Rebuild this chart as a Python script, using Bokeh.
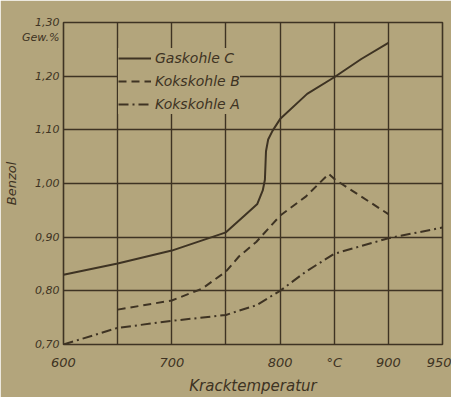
from bokeh.plotting import figure
from bokeh.models import FixedTicker, Range1d, Legend, LegendItem
from bokeh.embed import file_html
from bokeh.resources import INLINE

# ---- data ----
temp_C = [600, 650, 700, 750, 767, 779, 784, 786, 787, 789, 793, 800, 825, 850, 875, 900]
gas_C = [0.830, 0.851, 0.875, 0.909, 0.940, 0.962, 0.987, 1.007, 1.060, 1.082, 1.098, 1.120, 1.167, 1.198, 1.232, 1.262]

temp_B = [650, 700, 728, 750, 762, 778, 800, 824, 845, 851, 900]
koks_B = [0.765, 0.782, 0.804, 0.836, 0.864, 0.891, 0.940, 0.976, 1.018, 1.007, 0.943]

temp_A = [600, 650, 700, 750, 762, 778, 800, 824, 850, 900, 950]
koks_A = [0.700, 0.731, 0.744, 0.755, 0.763, 0.773, 0.800, 0.836, 0.869, 0.898, 0.918]

x_ticks = [600, 650, 700, 750, 800, 850, 900, 950]
x_tick_labels = ["600", "", "700", "", "800", "°C", "900", "950"]
y_ticks = [0.70, 0.80, 0.90, 1.00, 1.10, 1.20, 1.30]
y_tick_labels = ["0,70", "0,80", "0,90", "1,00", "1,10", "1,20", "1,30"]
series_names = ["Gaskohle C", "Kokskohle B", "Kokskohle A"]
unit_text = "Gew.%"

INK = "#3e3323"
BG = "#b3a57c"
FONT = "DejaVu Sans"
Y0, Y1 = 0.70, 1.30
FRAME_H = 329          # frame height in px (layout constant)
UNIT_DROP_PX = 15      # unit label sits this far below the top tick

p = figure(width=451, height=397, output_backend="svg", toolbar_location=None,
           x_range=Range1d(600, 950), y_range=Range1d(Y0, Y1),
           min_border_left=63, min_border_right=9, min_border_top=22, min_border_bottom=46)
p.background_fill_color = BG
p.border_fill_color = BG
p.outline_line_color = INK
p.outline_line_width = 1.6

# unit label placed as an extra (grid-less) tick just below the top tick
unit_tick = y_ticks[-1] - UNIT_DROP_PX * (Y1 - Y0) / FRAME_H
y_label_ticks = y_ticks + [unit_tick]
y_label_texts = y_tick_labels + [unit_text]

p.xaxis.ticker = FixedTicker(ticks=x_ticks)
p.yaxis.ticker = FixedTicker(ticks=y_label_ticks)
p.xaxis.major_label_overrides = dict(zip(x_ticks, x_tick_labels))
p.yaxis.major_label_overrides = dict(zip(y_label_ticks, y_label_texts))
for ax in (p.xaxis[0], p.yaxis[0]):
    ax.axis_line_color = None
    ax.major_tick_line_color = None
    ax.minor_tick_line_color = None
    ax.major_tick_out = 0
    ax.major_tick_in = 0
    ax.minor_tick_out = 0
    ax.minor_tick_in = 0
    ax.major_label_text_font = FONT
    ax.major_label_text_font_style = "italic"
    ax.major_label_text_color = INK
    ax.axis_label_text_font = FONT
    ax.axis_label_text_font_style = "italic"
    ax.axis_label_text_color = INK
p.xaxis.major_label_text_font_size = "13px"
p.yaxis.major_label_text_font_size = "11px"
p.xaxis.axis_label_text_font_size = "15px"
p.yaxis.axis_label_text_font_size = "13px"
p.xaxis.axis_label = "Kracktemperatur"
p.yaxis.axis_label = "Benzol"
p.xaxis.major_label_standoff = 10
p.xaxis.axis_label_standoff = 4
p.yaxis.major_label_standoff = 4
p.yaxis.axis_label_standoff = 0
p.yaxis.major_label_text_baseline = "bottom"

p.xgrid.ticker = FixedTicker(ticks=x_ticks)
p.ygrid.ticker = FixedTicker(ticks=y_ticks)
for g in (p.xgrid[0], p.ygrid[0]):
    g.grid_line_color = INK
    g.grid_line_width = 1.4
    g.grid_line_alpha = 1.0

rC = p.line(temp_C, gas_C, line_color=INK, line_width=2)
rB = p.line(temp_B, koks_B, line_color=INK, line_width=2, line_dash="8 5")
rA = p.line(temp_A, koks_A, line_color=INK, line_width=2, line_dash="10 4 2 4")

legend = Legend(items=[LegendItem(label=series_names[0], renderers=[rC]),
                       LegendItem(label=series_names[1], renderers=[rB]),
                       LegendItem(label=series_names[2], renderers=[rA])],
                location=(55, 230), orientation="vertical",
                glyph_width=33, glyph_height=20, label_height=20, spacing=3,
                padding=4, margin=0, label_standoff=4,
                background_fill_color=BG, background_fill_alpha=1.0,
                border_line_color=None,
                label_text_font=FONT, label_text_font_style="italic",
                label_text_font_size="14px", label_text_color=INK)
p.add_layout(legend)

open("out.html", "w").write(file_html(p, INLINE))
